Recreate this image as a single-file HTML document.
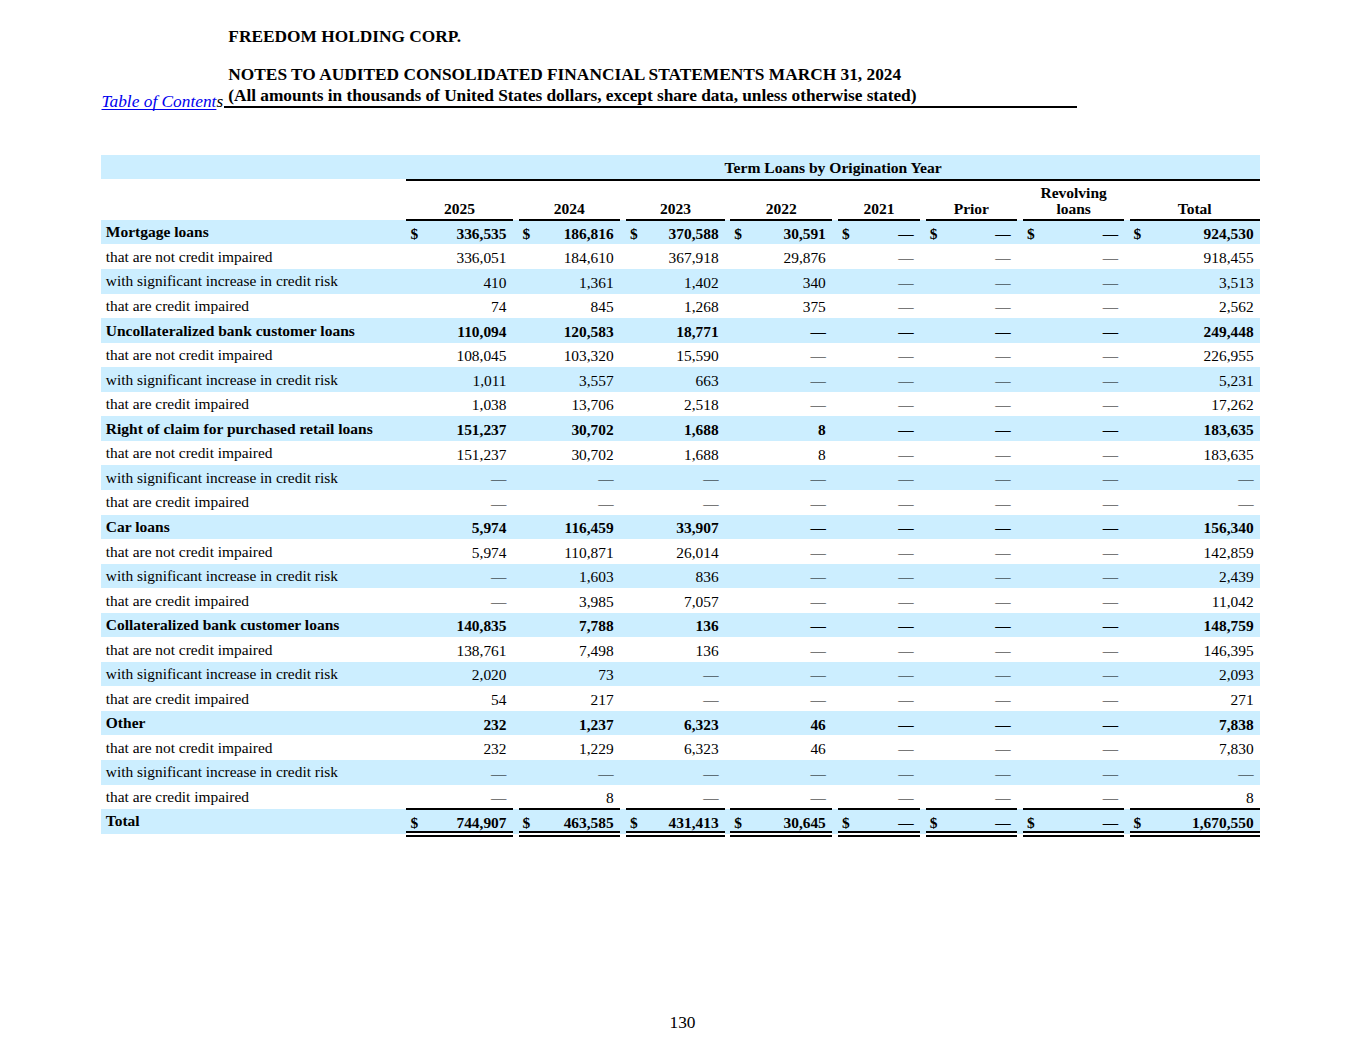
<!DOCTYPE html><html><head><meta charset="utf-8"><style>
html,body{margin:0;padding:0;background:#fff;}
body{width:1365px;height:1055px;position:relative;overflow:hidden;font-family:"Liberation Serif",serif;color:#000;}
.a{position:absolute;white-space:nowrap;line-height:1;z-index:3;}
.b{font-weight:bold;}
.bg{position:absolute;background:#cceeff;z-index:1;}
.k{position:absolute;background:#000;z-index:2;}
.l{font-size:15.4px;}
.l.b{font-size:15.5px;}
.n{font-size:15.4px;text-align:right;}
.h{font-size:17.33px;font-weight:bold;}

</style></head><body>
<div class="a h" style="left:228.3px;top:28px">FREEDOM HOLDING CORP.</div>
<div class="a h" style="left:228.3px;top:66px">NOTES TO AUDITED CONSOLIDATED FINANCIAL STATEMENTS MARCH 31, 2024</div>
<div class="a h" style="left:228.3px;top:87px;letter-spacing:-0.045px">(All amounts in thousands of United States dollars, except share data, unless otherwise stated)</div>
<div class="k" style="left:223.5px;top:106px;width:853px;height:2px"></div>
<div class="a" style="left:101.5px;top:93px;font-size:17.33px;font-style:italic"><span style="color:#0000ee;text-decoration:underline;text-decoration-skip-ink:none;text-underline-offset:1.5px">Table of Content</span>s</div>
<div class="bg" style="left:101.0px;top:155px;width:1159.0px;height:24px"></div>
<div class="k" style="left:406.4px;top:179px;width:853.6px;height:2px"></div>
<div class="a b" style="left:833.2px;top:160px;width:400px;margin-left:-200px;text-align:center;font-size:15.6px">Term Loans by Origination Year</div>
<div class="a b l" style="left:459.60px;top:201px;width:200px;margin-left:-100px;text-align:center">2025</div>
<div class="k" style="left:406.4px;top:219px;width:106.4px;height:2px"></div>
<div class="a b l" style="left:569.30px;top:201px;width:200px;margin-left:-100px;text-align:center">2024</div>
<div class="k" style="left:518.6px;top:219px;width:101.4px;height:2px"></div>
<div class="a b l" style="left:675.40px;top:201px;width:200px;margin-left:-100px;text-align:center">2023</div>
<div class="k" style="left:625.9px;top:219px;width:99.0px;height:2px"></div>
<div class="a b l" style="left:781.15px;top:201px;width:200px;margin-left:-100px;text-align:center">2022</div>
<div class="k" style="left:730.2px;top:219px;width:101.9px;height:2px"></div>
<div class="a b l" style="left:878.95px;top:201px;width:200px;margin-left:-100px;text-align:center">2021</div>
<div class="k" style="left:837.9px;top:219px;width:82.1px;height:2px"></div>
<div class="a b l" style="left:971.35px;top:201px;width:200px;margin-left:-100px;text-align:center">Prior</div>
<div class="k" style="left:925.8px;top:219px;width:91.1px;height:2px"></div>
<div class="a b l" style="left:1073.65px;top:185px;width:200px;margin-left:-100px;text-align:center">Revolving</div>
<div class="a b l" style="left:1073.65px;top:201px;width:200px;margin-left:-100px;text-align:center">loans</div>
<div class="k" style="left:1022.9px;top:219px;width:101.5px;height:2px"></div>
<div class="a b l" style="left:1194.70px;top:201px;width:200px;margin-left:-100px;text-align:center">Total</div>
<div class="k" style="left:1129.5px;top:219px;width:130.4px;height:2px"></div>
<div class="bg" style="left:101.0px;top:219.90px;width:1159.0px;height:24.55px"></div>
<div class="a l b" style="left:105.8px;top:224px">Mortgage loans</div>
<div class="a n b" style="left:410.4px;top:226px">$</div>
<div class="a n b" style="right:858.5px;top:226px">336,535</div>
<div class="a n b" style="left:522.6px;top:226px">$</div>
<div class="a n b" style="right:751.3px;top:226px">186,816</div>
<div class="a n b" style="left:629.9px;top:226px">$</div>
<div class="a n b" style="right:646.4px;top:226px">370,588</div>
<div class="a n b" style="left:734.2px;top:226px">$</div>
<div class="a n b" style="right:539.2px;top:226px">30,591</div>
<div class="a n b" style="left:841.9px;top:226px">$</div>
<div class="a n b" style="right:451.3px;top:226px">—</div>
<div class="a n b" style="left:929.8px;top:226px">$</div>
<div class="a n b" style="right:354.4px;top:226px">—</div>
<div class="a n b" style="left:1026.9px;top:226px">$</div>
<div class="a n b" style="right:246.9px;top:226px">—</div>
<div class="a n b" style="left:1133.5px;top:226px">$</div>
<div class="a n b" style="right:111.4px;top:226px">924,530</div>
<div class="a l" style="left:105.8px;top:249px">that are not credit impaired</div>
<div class="a n" style="right:858.5px;top:250px">336,051</div>
<div class="a n" style="right:751.3px;top:250px">184,610</div>
<div class="a n" style="right:646.4px;top:250px">367,918</div>
<div class="a n" style="right:539.2px;top:250px">29,876</div>
<div class="a n" style="right:451.3px;top:250px">—</div>
<div class="a n" style="right:354.4px;top:250px">—</div>
<div class="a n" style="right:246.9px;top:250px">—</div>
<div class="a n" style="right:111.4px;top:250px">918,455</div>
<div class="bg" style="left:101.0px;top:269.00px;width:1159.0px;height:24.55px"></div>
<div class="a l" style="left:105.8px;top:273px">with significant increase in credit risk</div>
<div class="a n" style="right:858.5px;top:275px">410</div>
<div class="a n" style="right:751.3px;top:275px">1,361</div>
<div class="a n" style="right:646.4px;top:275px">1,402</div>
<div class="a n" style="right:539.2px;top:275px">340</div>
<div class="a n" style="right:451.3px;top:275px">—</div>
<div class="a n" style="right:354.4px;top:275px">—</div>
<div class="a n" style="right:246.9px;top:275px">—</div>
<div class="a n" style="right:111.4px;top:275px">3,513</div>
<div class="a l" style="left:105.8px;top:298px">that are credit impaired</div>
<div class="a n" style="right:858.5px;top:299px">74</div>
<div class="a n" style="right:751.3px;top:299px">845</div>
<div class="a n" style="right:646.4px;top:299px">1,268</div>
<div class="a n" style="right:539.2px;top:299px">375</div>
<div class="a n" style="right:451.3px;top:299px">—</div>
<div class="a n" style="right:354.4px;top:299px">—</div>
<div class="a n" style="right:246.9px;top:299px">—</div>
<div class="a n" style="right:111.4px;top:299px">2,562</div>
<div class="bg" style="left:101.0px;top:318.10px;width:1159.0px;height:24.55px"></div>
<div class="a l b" style="left:105.8px;top:323px">Uncollateralized bank customer loans</div>
<div class="a n b" style="right:858.5px;top:324px">110,094</div>
<div class="a n b" style="right:751.3px;top:324px">120,583</div>
<div class="a n b" style="right:646.4px;top:324px">18,771</div>
<div class="a n b" style="right:539.2px;top:324px">—</div>
<div class="a n b" style="right:451.3px;top:324px">—</div>
<div class="a n b" style="right:354.4px;top:324px">—</div>
<div class="a n b" style="right:246.9px;top:324px">—</div>
<div class="a n b" style="right:111.4px;top:324px">249,448</div>
<div class="a l" style="left:105.8px;top:347px">that are not credit impaired</div>
<div class="a n" style="right:858.5px;top:348px">108,045</div>
<div class="a n" style="right:751.3px;top:348px">103,320</div>
<div class="a n" style="right:646.4px;top:348px">15,590</div>
<div class="a n" style="right:539.2px;top:348px">—</div>
<div class="a n" style="right:451.3px;top:348px">—</div>
<div class="a n" style="right:354.4px;top:348px">—</div>
<div class="a n" style="right:246.9px;top:348px">—</div>
<div class="a n" style="right:111.4px;top:348px">226,955</div>
<div class="bg" style="left:101.0px;top:367.20px;width:1159.0px;height:24.55px"></div>
<div class="a l" style="left:105.8px;top:372px">with significant increase in credit risk</div>
<div class="a n" style="right:858.5px;top:373px">1,011</div>
<div class="a n" style="right:751.3px;top:373px">3,557</div>
<div class="a n" style="right:646.4px;top:373px">663</div>
<div class="a n" style="right:539.2px;top:373px">—</div>
<div class="a n" style="right:451.3px;top:373px">—</div>
<div class="a n" style="right:354.4px;top:373px">—</div>
<div class="a n" style="right:246.9px;top:373px">—</div>
<div class="a n" style="right:111.4px;top:373px">5,231</div>
<div class="a l" style="left:105.8px;top:396px">that are credit impaired</div>
<div class="a n" style="right:858.5px;top:397px">1,038</div>
<div class="a n" style="right:751.3px;top:397px">13,706</div>
<div class="a n" style="right:646.4px;top:397px">2,518</div>
<div class="a n" style="right:539.2px;top:397px">—</div>
<div class="a n" style="right:451.3px;top:397px">—</div>
<div class="a n" style="right:354.4px;top:397px">—</div>
<div class="a n" style="right:246.9px;top:397px">—</div>
<div class="a n" style="right:111.4px;top:397px">17,262</div>
<div class="bg" style="left:101.0px;top:416.30px;width:1159.0px;height:24.55px"></div>
<div class="a l b" style="left:105.8px;top:421px">Right of claim for purchased retail loans</div>
<div class="a n b" style="right:858.5px;top:422px">151,237</div>
<div class="a n b" style="right:751.3px;top:422px">30,702</div>
<div class="a n b" style="right:646.4px;top:422px">1,688</div>
<div class="a n b" style="right:539.2px;top:422px">8</div>
<div class="a n b" style="right:451.3px;top:422px">—</div>
<div class="a n b" style="right:354.4px;top:422px">—</div>
<div class="a n b" style="right:246.9px;top:422px">—</div>
<div class="a n b" style="right:111.4px;top:422px">183,635</div>
<div class="a l" style="left:105.8px;top:445px">that are not credit impaired</div>
<div class="a n" style="right:858.5px;top:447px">151,237</div>
<div class="a n" style="right:751.3px;top:447px">30,702</div>
<div class="a n" style="right:646.4px;top:447px">1,688</div>
<div class="a n" style="right:539.2px;top:447px">8</div>
<div class="a n" style="right:451.3px;top:447px">—</div>
<div class="a n" style="right:354.4px;top:447px">—</div>
<div class="a n" style="right:246.9px;top:447px">—</div>
<div class="a n" style="right:111.4px;top:447px">183,635</div>
<div class="bg" style="left:101.0px;top:465.40px;width:1159.0px;height:24.55px"></div>
<div class="a l" style="left:105.8px;top:470px">with significant increase in credit risk</div>
<div class="a n" style="right:858.5px;top:471px">—</div>
<div class="a n" style="right:751.3px;top:471px">—</div>
<div class="a n" style="right:646.4px;top:471px">—</div>
<div class="a n" style="right:539.2px;top:471px">—</div>
<div class="a n" style="right:451.3px;top:471px">—</div>
<div class="a n" style="right:354.4px;top:471px">—</div>
<div class="a n" style="right:246.9px;top:471px">—</div>
<div class="a n" style="right:111.4px;top:471px">—</div>
<div class="a l" style="left:105.8px;top:494px">that are credit impaired</div>
<div class="a n" style="right:858.5px;top:496px">—</div>
<div class="a n" style="right:751.3px;top:496px">—</div>
<div class="a n" style="right:646.4px;top:496px">—</div>
<div class="a n" style="right:539.2px;top:496px">—</div>
<div class="a n" style="right:451.3px;top:496px">—</div>
<div class="a n" style="right:354.4px;top:496px">—</div>
<div class="a n" style="right:246.9px;top:496px">—</div>
<div class="a n" style="right:111.4px;top:496px">—</div>
<div class="bg" style="left:101.0px;top:514.50px;width:1159.0px;height:24.55px"></div>
<div class="a l b" style="left:105.8px;top:519px">Car loans</div>
<div class="a n b" style="right:858.5px;top:520px">5,974</div>
<div class="a n b" style="right:751.3px;top:520px">116,459</div>
<div class="a n b" style="right:646.4px;top:520px">33,907</div>
<div class="a n b" style="right:539.2px;top:520px">—</div>
<div class="a n b" style="right:451.3px;top:520px">—</div>
<div class="a n b" style="right:354.4px;top:520px">—</div>
<div class="a n b" style="right:246.9px;top:520px">—</div>
<div class="a n b" style="right:111.4px;top:520px">156,340</div>
<div class="a l" style="left:105.8px;top:544px">that are not credit impaired</div>
<div class="a n" style="right:858.5px;top:545px">5,974</div>
<div class="a n" style="right:751.3px;top:545px">110,871</div>
<div class="a n" style="right:646.4px;top:545px">26,014</div>
<div class="a n" style="right:539.2px;top:545px">—</div>
<div class="a n" style="right:451.3px;top:545px">—</div>
<div class="a n" style="right:354.4px;top:545px">—</div>
<div class="a n" style="right:246.9px;top:545px">—</div>
<div class="a n" style="right:111.4px;top:545px">142,859</div>
<div class="bg" style="left:101.0px;top:563.60px;width:1159.0px;height:24.55px"></div>
<div class="a l" style="left:105.8px;top:568px">with significant increase in credit risk</div>
<div class="a n" style="right:858.5px;top:569px">—</div>
<div class="a n" style="right:751.3px;top:569px">1,603</div>
<div class="a n" style="right:646.4px;top:569px">836</div>
<div class="a n" style="right:539.2px;top:569px">—</div>
<div class="a n" style="right:451.3px;top:569px">—</div>
<div class="a n" style="right:354.4px;top:569px">—</div>
<div class="a n" style="right:246.9px;top:569px">—</div>
<div class="a n" style="right:111.4px;top:569px">2,439</div>
<div class="a l" style="left:105.8px;top:593px">that are credit impaired</div>
<div class="a n" style="right:858.5px;top:594px">—</div>
<div class="a n" style="right:751.3px;top:594px">3,985</div>
<div class="a n" style="right:646.4px;top:594px">7,057</div>
<div class="a n" style="right:539.2px;top:594px">—</div>
<div class="a n" style="right:451.3px;top:594px">—</div>
<div class="a n" style="right:354.4px;top:594px">—</div>
<div class="a n" style="right:246.9px;top:594px">—</div>
<div class="a n" style="right:111.4px;top:594px">11,042</div>
<div class="bg" style="left:101.0px;top:612.70px;width:1159.0px;height:24.55px"></div>
<div class="a l b" style="left:105.8px;top:617px">Collateralized bank customer loans</div>
<div class="a n b" style="right:858.5px;top:618px">140,835</div>
<div class="a n b" style="right:751.3px;top:618px">7,788</div>
<div class="a n b" style="right:646.4px;top:618px">136</div>
<div class="a n b" style="right:539.2px;top:618px">—</div>
<div class="a n b" style="right:451.3px;top:618px">—</div>
<div class="a n b" style="right:354.4px;top:618px">—</div>
<div class="a n b" style="right:246.9px;top:618px">—</div>
<div class="a n b" style="right:111.4px;top:618px">148,759</div>
<div class="a l" style="left:105.8px;top:642px">that are not credit impaired</div>
<div class="a n" style="right:858.5px;top:643px">138,761</div>
<div class="a n" style="right:751.3px;top:643px">7,498</div>
<div class="a n" style="right:646.4px;top:643px">136</div>
<div class="a n" style="right:539.2px;top:643px">—</div>
<div class="a n" style="right:451.3px;top:643px">—</div>
<div class="a n" style="right:354.4px;top:643px">—</div>
<div class="a n" style="right:246.9px;top:643px">—</div>
<div class="a n" style="right:111.4px;top:643px">146,395</div>
<div class="bg" style="left:101.0px;top:661.80px;width:1159.0px;height:24.55px"></div>
<div class="a l" style="left:105.8px;top:666px">with significant increase in credit risk</div>
<div class="a n" style="right:858.5px;top:667px">2,020</div>
<div class="a n" style="right:751.3px;top:667px">73</div>
<div class="a n" style="right:646.4px;top:667px">—</div>
<div class="a n" style="right:539.2px;top:667px">—</div>
<div class="a n" style="right:451.3px;top:667px">—</div>
<div class="a n" style="right:354.4px;top:667px">—</div>
<div class="a n" style="right:246.9px;top:667px">—</div>
<div class="a n" style="right:111.4px;top:667px">2,093</div>
<div class="a l" style="left:105.8px;top:691px">that are credit impaired</div>
<div class="a n" style="right:858.5px;top:692px">54</div>
<div class="a n" style="right:751.3px;top:692px">217</div>
<div class="a n" style="right:646.4px;top:692px">—</div>
<div class="a n" style="right:539.2px;top:692px">—</div>
<div class="a n" style="right:451.3px;top:692px">—</div>
<div class="a n" style="right:354.4px;top:692px">—</div>
<div class="a n" style="right:246.9px;top:692px">—</div>
<div class="a n" style="right:111.4px;top:692px">271</div>
<div class="bg" style="left:101.0px;top:710.90px;width:1159.0px;height:24.55px"></div>
<div class="a l b" style="left:105.8px;top:715px">Other</div>
<div class="a n b" style="right:858.5px;top:717px">232</div>
<div class="a n b" style="right:751.3px;top:717px">1,237</div>
<div class="a n b" style="right:646.4px;top:717px">6,323</div>
<div class="a n b" style="right:539.2px;top:717px">46</div>
<div class="a n b" style="right:451.3px;top:717px">—</div>
<div class="a n b" style="right:354.4px;top:717px">—</div>
<div class="a n b" style="right:246.9px;top:717px">—</div>
<div class="a n b" style="right:111.4px;top:717px">7,838</div>
<div class="a l" style="left:105.8px;top:740px">that are not credit impaired</div>
<div class="a n" style="right:858.5px;top:741px">232</div>
<div class="a n" style="right:751.3px;top:741px">1,229</div>
<div class="a n" style="right:646.4px;top:741px">6,323</div>
<div class="a n" style="right:539.2px;top:741px">46</div>
<div class="a n" style="right:451.3px;top:741px">—</div>
<div class="a n" style="right:354.4px;top:741px">—</div>
<div class="a n" style="right:246.9px;top:741px">—</div>
<div class="a n" style="right:111.4px;top:741px">7,830</div>
<div class="bg" style="left:101.0px;top:760.00px;width:1159.0px;height:24.55px"></div>
<div class="a l" style="left:105.8px;top:764px">with significant increase in credit risk</div>
<div class="a n" style="right:858.5px;top:766px">—</div>
<div class="a n" style="right:751.3px;top:766px">—</div>
<div class="a n" style="right:646.4px;top:766px">—</div>
<div class="a n" style="right:539.2px;top:766px">—</div>
<div class="a n" style="right:451.3px;top:766px">—</div>
<div class="a n" style="right:354.4px;top:766px">—</div>
<div class="a n" style="right:246.9px;top:766px">—</div>
<div class="a n" style="right:111.4px;top:766px">—</div>
<div class="a l" style="left:105.8px;top:789px">that are credit impaired</div>
<div class="a n" style="right:858.5px;top:790px">—</div>
<div class="a n" style="right:751.3px;top:790px">8</div>
<div class="a n" style="right:646.4px;top:790px">—</div>
<div class="a n" style="right:539.2px;top:790px">—</div>
<div class="a n" style="right:451.3px;top:790px">—</div>
<div class="a n" style="right:354.4px;top:790px">—</div>
<div class="a n" style="right:246.9px;top:790px">—</div>
<div class="a n" style="right:111.4px;top:790px">8</div>
<div class="bg" style="left:101.0px;top:809px;width:1159.0px;height:25px"></div>
<div class="a l b" style="left:105.8px;top:813px">Total</div>
<div class="a n b" style="left:410.4px;top:815px">$</div>
<div class="a n b" style="right:858.5px;top:815px">744,907</div>
<div class="a n b" style="left:522.6px;top:815px">$</div>
<div class="a n b" style="right:751.3px;top:815px">463,585</div>
<div class="a n b" style="left:629.9px;top:815px">$</div>
<div class="a n b" style="right:646.4px;top:815px">431,413</div>
<div class="a n b" style="left:734.2px;top:815px">$</div>
<div class="a n b" style="right:539.2px;top:815px">30,645</div>
<div class="a n b" style="left:841.9px;top:815px">$</div>
<div class="a n b" style="right:451.3px;top:815px">—</div>
<div class="a n b" style="left:929.8px;top:815px">$</div>
<div class="a n b" style="right:354.4px;top:815px">—</div>
<div class="a n b" style="left:1026.9px;top:815px">$</div>
<div class="a n b" style="right:246.9px;top:815px">—</div>
<div class="a n b" style="left:1133.5px;top:815px">$</div>
<div class="a n b" style="right:111.4px;top:815px">1,670,550</div>
<div class="bg" style="left:406.4px;top:833px;width:106.4px;height:2px;background:#fff"></div>
<div class="k" style="left:406.4px;top:808px;width:106.4px;height:2px"></div>
<div class="k" style="left:406.4px;top:831px;width:106.4px;height:2px"></div>
<div class="k" style="left:406.4px;top:835px;width:106.4px;height:2px"></div>
<div class="bg" style="left:518.6px;top:833px;width:101.4px;height:2px;background:#fff"></div>
<div class="k" style="left:518.6px;top:808px;width:101.4px;height:2px"></div>
<div class="k" style="left:518.6px;top:831px;width:101.4px;height:2px"></div>
<div class="k" style="left:518.6px;top:835px;width:101.4px;height:2px"></div>
<div class="bg" style="left:625.9px;top:833px;width:99.0px;height:2px;background:#fff"></div>
<div class="k" style="left:625.9px;top:808px;width:99.0px;height:2px"></div>
<div class="k" style="left:625.9px;top:831px;width:99.0px;height:2px"></div>
<div class="k" style="left:625.9px;top:835px;width:99.0px;height:2px"></div>
<div class="bg" style="left:730.2px;top:833px;width:101.9px;height:2px;background:#fff"></div>
<div class="k" style="left:730.2px;top:808px;width:101.9px;height:2px"></div>
<div class="k" style="left:730.2px;top:831px;width:101.9px;height:2px"></div>
<div class="k" style="left:730.2px;top:835px;width:101.9px;height:2px"></div>
<div class="bg" style="left:837.9px;top:833px;width:82.1px;height:2px;background:#fff"></div>
<div class="k" style="left:837.9px;top:808px;width:82.1px;height:2px"></div>
<div class="k" style="left:837.9px;top:831px;width:82.1px;height:2px"></div>
<div class="k" style="left:837.9px;top:835px;width:82.1px;height:2px"></div>
<div class="bg" style="left:925.8px;top:833px;width:91.1px;height:2px;background:#fff"></div>
<div class="k" style="left:925.8px;top:808px;width:91.1px;height:2px"></div>
<div class="k" style="left:925.8px;top:831px;width:91.1px;height:2px"></div>
<div class="k" style="left:925.8px;top:835px;width:91.1px;height:2px"></div>
<div class="bg" style="left:1022.9px;top:833px;width:101.5px;height:2px;background:#fff"></div>
<div class="k" style="left:1022.9px;top:808px;width:101.5px;height:2px"></div>
<div class="k" style="left:1022.9px;top:831px;width:101.5px;height:2px"></div>
<div class="k" style="left:1022.9px;top:835px;width:101.5px;height:2px"></div>
<div class="bg" style="left:1129.5px;top:833px;width:130.4px;height:2px;background:#fff"></div>
<div class="k" style="left:1129.5px;top:808px;width:130.4px;height:2px"></div>
<div class="k" style="left:1129.5px;top:831px;width:130.4px;height:2px"></div>
<div class="k" style="left:1129.5px;top:835px;width:130.4px;height:2px"></div>
<div class="a" style="left:0;width:1365px;text-align:center;top:1014px;font-size:17.33px">130</div>
</body></html>
